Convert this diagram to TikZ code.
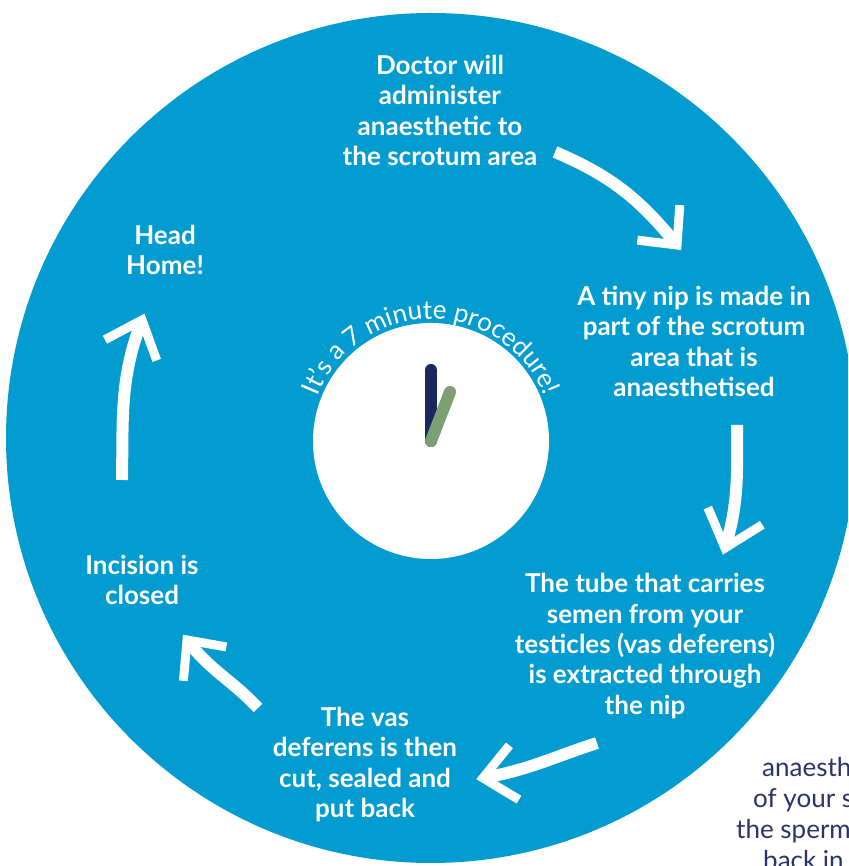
\documentclass[tikz,border=0pt]{standalone}
\usepackage{fontspec}
\setmainfont{Lato}
\usetikzlibrary{calc,decorations.text}
\definecolor{discblue}{RGB}{2,156,209}
\definecolor{handnavy}{RGB}{27,40,96}
\definecolor{handgreen}{RGB}{124,159,115}
\definecolor{textnavy}{RGB}{43,52,104}
\begin{document}
\begin{tikzpicture}[x=1pt,y=1pt,
  lbl/.style={text=white, align=center, font=\bfseries\fontsize{26}{30.3}\selectfont, inner sep=0pt},
  shaft/.style={draw=white, line width=12pt, line cap=butt},
  chev/.style={draw=white, line width=9pt, line cap=butt, line join=miter},
  hand/.style={line width=12pt, line cap=round},
  side/.style={text=textnavy, font=\fontsize{26}{30}\selectfont, anchor=base west, inner sep=0pt}]
\useasboundingbox (0,0) rectangle (848,866);
\clip (0,0) rectangle (848,866);
\fill[white] (0,0) rectangle (848,866);
\coordinate (C) at (431,428);
\fill[discblue] (C) circle[radius=425];
\coordinate (F) at (431,425);
\fill[white] (F) circle[radius=118];
% curved text
\path[decorate, decoration={text along path, text align=center,
  text={|\fontsize{26}{26}\selectfont\color{white}|It's a 7 minute procedure!}}]
  ($(F)+(170:122)$) arc[start angle=170, end angle=10, radius=122];
% hands
\coordinate (hn) at (431,496);
\coordinate (hg) at (450,474);
\draw[hand, handnavy] (F) -- (hn);
\draw[hand, handgreen] (F) -- (hg);
% labels
\node[lbl] (l1) at (440,755.5) {Doctor will\\administer\\anaesthetic to\\the scrotum area};
\node[lbl] (l2) at (694,524.5) {A tiny nip is made in\\part of the scrotum\\area that is\\anaesthetised};
\node[lbl] (l3) at (645,220) {The tube that carries\\semen from your\\testicles (vas deferens)\\is extracted through\\the nip};
\node[lbl] (l4) at (365,101.5) {The vas\\deferens is then\\cut, sealed and\\put back};
\node[lbl] (l5) at (142,286) {Incision is\\closed};
\node[lbl] (l6) at (165,616) {Head\\Home!};
% arrows
\coordinate (a1s) at (555,714); \coordinate (a1e) at (677,621);
\draw[shaft] (a1s) to[out=-23,in=129] (a1e);
\draw[chev] ($(a1e)+(86:40)$) -- (a1e) -- ($(a1e)+(173:40)$);
\coordinate (a2s) at (737,441); \coordinate (a2e) at (725,318);
\draw[shaft] (a2s) to[out=-90,in=73] (a2e);
\draw[chev] ($(a2e)+(113:44)$) -- (a2e) -- ($(a2e)+(32:44)$);
\coordinate (a3s) at (597,123); \coordinate (a3e) at (483,88);
\draw[shaft] (a3s) to[out=198,in=10] (a3e);
\draw[chev] ($(a3e)+(51:42)$) -- (a3e) -- ($(a3e)+(-31:42)$);
\coordinate (a4s) at (258,158); \coordinate (a4e) at (187,226);
\draw[shaft] (a4s) to[out=133,in=-53] (a4e);
\draw[chev] ($(a4e)+(-10:40)$) -- (a4e) -- ($(a4e)+(-95:41)$);
\coordinate (a5s) at (122,386); \coordinate (a5e) at (142,546);
\draw[shaft] (a5s) to[out=89,in=249] (a5e);
\draw[chev] ($(a5e)+(208:42)$) -- (a5e) -- ($(a5e)+(290:43)$);
% side text
\node[side] (s1) at (762,89) {anaesth};
\node[side] (s2) at (753,58) {of your s};
\node[side] (s3) at (736,27) {the sperm};
\node[side] (s4) at (763,-4) {back in};
\end{tikzpicture}
\end{document}
